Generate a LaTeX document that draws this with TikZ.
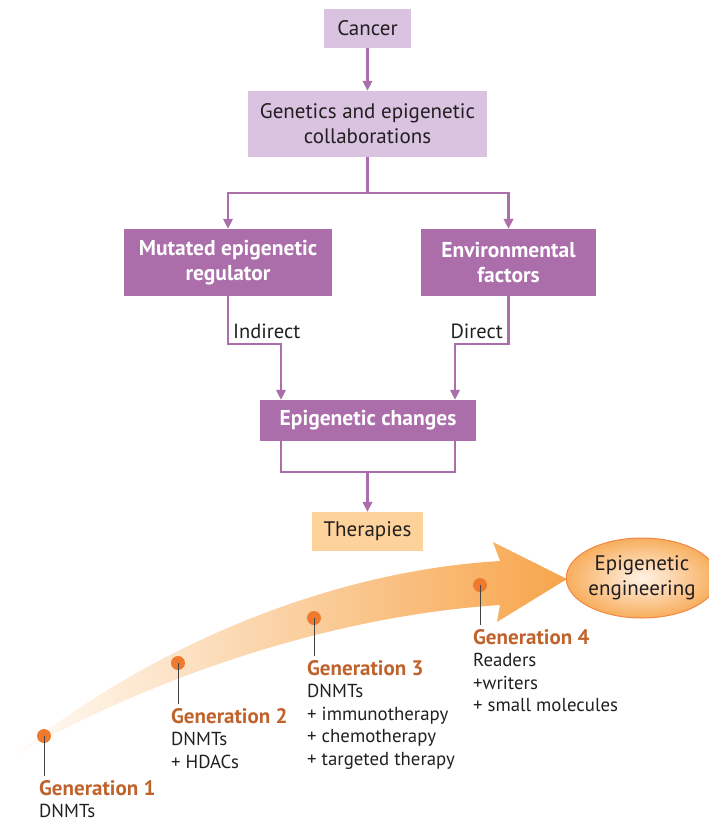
\documentclass[tikz,border=0pt]{standalone}
\usepackage{fontspec}
\setmainfont{PT Sans}
\usetikzlibrary{shapes.geometric,arrows.meta,positioning,calc}
\definecolor{lilac}{HTML}{D9C3E1}
\definecolor{plum}{HTML}{AB6EAB}
\definecolor{peach}{HTML}{FDD29B}
\definecolor{tangerine}{HTML}{F7A54B}
\definecolor{dotorange}{HTML}{EF7A2E}
\definecolor{rust}{HTML}{C0622B}
\definecolor{inkgray}{HTML}{231F20}

\begin{document}
\begin{tikzpicture}[x=1pt, y=-1pt,
  lightbox/.style={fill=lilac, text=inkgray, align=center, inner sep=0pt,
                   font=\fontsize{21}{25}\selectfont},
  darkbox/.style={fill=plum, text=white, align=center, inner sep=0pt,
                  font=\bfseries\fontsize{21.5}{25}\selectfont},
  peachbox/.style={fill=peach, text=inkgray, align=center, inner sep=0pt,
                   font=\fontsize{21}{25}\selectfont},
  arr/.style={-{Triangle[width=9.5pt,length=10pt]}, draw=plum, line width=2.3pt},
  conn/.style={draw=plum, line width=2.3pt},
  lbl/.style={text=inkgray, inner sep=0pt, font=\fontsize{20.5}{24}\selectfont},
  gendot/.style={circle, fill=dotorange, inner sep=0pt, minimum size=14},
  gentxt/.style={align=left, text=inkgray, inner sep=0pt, anchor=north west,
                 font=\fontsize{18.8}{22.5}\selectfont},
  stem/.style={draw=inkgray!85, line width=1pt, shorten >=4pt}
]
\useasboundingbox (0,0) rectangle (709,820);

% flow chart
\node[lightbox, minimum width=87, minimum height=39]  (cancer)    at (367.5,28.5) {Cancer};
\node[lightbox, minimum width=239, minimum height=66] (genetics)  at (367.5,124)  {Genetics and epigenetic\\collaborations};
\node[darkbox, minimum width=208, minimum height=67]  (mutated)   at (228,262.5)  {Mutated epigenetic\\regulator};
\node[darkbox, minimum width=175, minimum height=67]  (environ)   at (508.5,262.5) {Environmental\\factors};
\node[darkbox, minimum width=216, minimum height=41]  (epichg)    at (368,420.5)  {Epigenetic changes};
\node[peachbox, minimum width=111, minimum height=39] (therapies) at (367.5,531.5) {Therapies};

\coordinate (split) at (367.5,193);
\coordinate (ind)   at (281,344);
\coordinate (dir)   at (455,344);
\coordinate (join)  at (367.5,472);

\draw[arr]  (cancer) -- (genetics);
\draw[conn] (genetics) -- (split);
\draw[arr]  (split) -| (mutated);
\draw[arr]  (split) -| (environ);
\draw[arr]  (mutated.south) |- (ind) -- (ind |- epichg.north);
\draw[arr]  (environ.south) |- (dir) -- (dir |- epichg.north);
\node[lbl, anchor=west] (indlbl) at (233,331) {Indirect};
\node[lbl, anchor=east] (dirlbl) at (503,331) {Direct};
\draw[conn] (ind |- epichg.south) |- (join) -| (dir |- epichg.south);
\draw[arr]  (join) -- (therapies);

% timeline arrow
\shade[left color=tangerine!3, right color=tangerine]
  (12,757) .. controls (150,646) and (330,571) .. (500,561)
  -- (493,542) -- (567,579) -- (497,622) -- (500,605)
  .. controls (330,616) and (150,678) .. cycle;

\node[ellipse, minimum width=142, minimum height=80, inner sep=0pt,
      inner color=orange!10, outer color=tangerine!90, draw=dotorange!90, line width=1pt,
      text=inkgray, align=center, font=\fontsize{21}{25}\selectfont]
  (engineer) at (642,578) {Epigenetic\\engineering};

\node[gendot] (g1dot) at (44,736) {};
\node[gendot] (g2dot) at (178,663) {};
\node[gendot] (g3dot) at (314,618) {};
\node[gendot] (g4dot) at (480,585) {};

\node[gentxt] (g1txt) at (39,780) {\textcolor{rust}{\bfseries\fontsize{21}{23}\selectfont Generation 1}\\DNMTs};
\node[gentxt] (g2txt) at (171,708) {\textcolor{rust}{\bfseries\fontsize{21}{23}\selectfont Generation 2}\\DNMTs\\+ HDACs};
\node[gentxt] (g3txt) at (307,660) {\textcolor{rust}{\bfseries\fontsize{21}{23}\selectfont Generation 3}\\DNMTs\\+ immunotherapy\\+ chemotherapy\\+ targeted therapy};
\node[gentxt] (g4txt) at (473,629) {\textcolor{rust}{\bfseries\fontsize{21}{23}\selectfont Generation 4}\\Readers\\+writers\\+ small molecules};

\draw[stem] (g1dot.center) -- (g1dot.center |- g1txt.north);
\draw[stem] (g2dot.center) -- (g2dot.center |- g2txt.north);
\draw[stem] (g3dot.center) -- (g3dot.center |- g3txt.north);
\draw[stem] (g4dot.center) -- (g4dot.center |- g4txt.north);

\end{tikzpicture}
\end{document}
